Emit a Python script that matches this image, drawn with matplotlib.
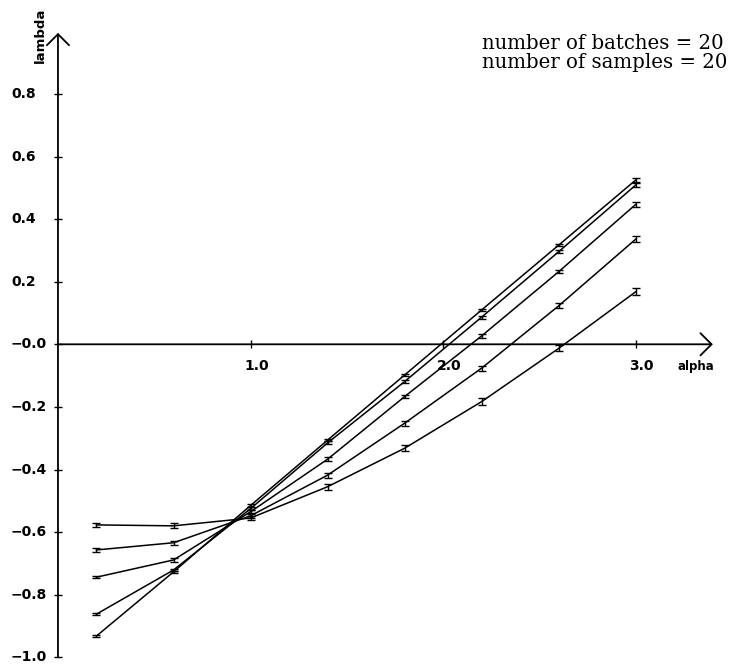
import numpy as np
import matplotlib.pyplot as plt

alpha = [0.2, 0.6, 1.0, 1.4, 1.8, 2.2, 2.6, 3.0]

# five curves, top one at alpha=0.2 first
lam_a = [-0.577, -0.580, -0.555, -0.455, -0.332, -0.183, -0.013, 0.168]
lam_b = [-0.657, -0.634, -0.548, -0.418, -0.252, -0.076, 0.123, 0.336]
lam_c = [-0.744, -0.689, -0.535, -0.367, -0.167, 0.027, 0.232, 0.447]
lam_d = [-0.862, -0.721, -0.525, -0.315, -0.119, 0.087, 0.296, 0.509]
lam_e = [-0.932, -0.727, -0.515, -0.306, -0.098, 0.110, 0.317, 0.525]

err_a = [0.006, 0.008, 0.006, 0.009, 0.009, 0.012, 0.010, 0.011]
err_b = [0.005, 0.007, 0.006, 0.008, 0.008, 0.008, 0.008, 0.009]
err_c = [0.004, 0.005, 0.005, 0.006, 0.006, 0.006, 0.005, 0.007]
err_d = [0.004, 0.004, 0.005, 0.005, 0.005, 0.005, 0.004, 0.005]
err_e = [0.002, 0.003, 0.004, 0.004, 0.004, 0.004, 0.004, 0.005]

yticks = [0.8, 0.6, 0.4, 0.2, 0.0, -0.2, -0.4, -0.6, -0.8, -1.0]
ytick_labels = ["0.8", "0.6", "0.4", "0.2", "\u22120.0", "\u22120.2", "\u22120.4",
                "\u22120.6", "\u22120.8", "\u22121.0"]
xticks = [1.0, 2.0, 3.0]
xtick_labels = ["1.0", "2.0", "3.0"]

info = ["number of batches = 20", "number of samples = 20"]

fig = plt.figure(figsize=(7.34, 6.65), dpi=100)
ax = fig.add_axes([0, 0, 1, 1])
ax.set_xlim(-0.301, 3.51)
ax.set_ylim(-1.0246, 1.100)
ax.axis("off")

# axes with open arrow heads
arrow = dict(arrowstyle="->,head_length=0.8,head_width=0.8", lw=1.3, color="black",
             shrinkA=0, shrinkB=0)
ax.annotate("", xy=(0, 0.995), xytext=(0, -1.0), arrowprops=arrow)
ax.annotate("", xy=(3.40, 0), xytext=(0, 0), arrowprops=arrow)

# small crossing ticks
ax.plot(np.zeros(len(yticks)), yticks, ls="none", marker="_", ms=6, mew=1.0, color="black")
ax.plot(xticks, np.zeros(len(xticks)), ls="none", marker="|", ms=6, mew=1.0, color="black")

for v, lab in zip(yticks, ytick_labels):
    ax.text(-0.244, v, lab, ha="left", va="center", fontsize=10, fontweight="bold")
for v, lab in zip(xticks, xtick_labels):
    ax.text(v + 0.03, -0.069, lab, ha="center", va="center", fontsize=10, fontweight="bold")

ax.text(-0.093, 0.988, "lambda", rotation=90, ha="center", va="center",
        fontsize=9.5, fontweight="bold")
ax.text(3.31, -0.072, "alpha", ha="center", va="center", fontsize=8.5, fontweight="bold")

ax.text(2.20, 0.962, info[0], ha="left", va="center", fontsize=14.2, family="DejaVu Serif")
ax.text(2.20, 0.899, info[1], ha="left", va="center", fontsize=14.2, family="DejaVu Serif")

for lam, err in [(lam_a, err_a), (lam_b, err_b), (lam_c, err_c), (lam_d, err_d), (lam_e, err_e)]:
    ax.errorbar(alpha, lam, yerr=err, color="black", lw=1.1, elinewidth=1.0,
                capsize=2.8, capthick=1.0)

fig.savefig("out.png", dpi=100)
